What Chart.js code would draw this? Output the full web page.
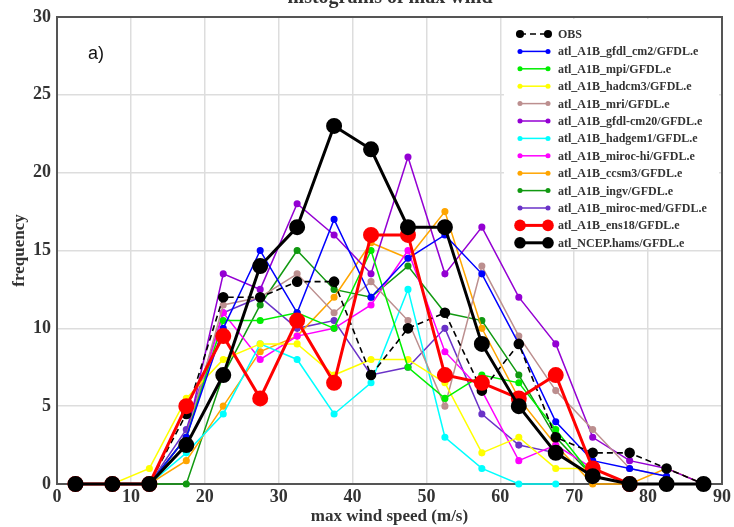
<!DOCTYPE html>
<html>
<head>
<meta charset="utf-8">
<title>max wind histogram</title>
<script src="https://cdn.jsdelivr.net/npm/chart.js@4.4.1/dist/chart.umd.min.js"></script>
<style>
    html, body { margin: 0; padding: 0; background: #fff; }
    canvas { display: block; }
</style>
</head>
<body>
<canvas id="wind-chart" width="734" height="527"></canvas>
<script>
// Centros dos intervalos de velocidade máxima (m/s)
const windBins = [2.5, 7.5, 12.5, 17.5, 22.5, 27.5, 32.5, 37.5, 42.5, 47.5, 52.5, 57.5, 62.5, 67.5, 72.5, 77.5, 82.5, 87.5];

// Frequências de cada experimento
const obs      = [0, 0, 0, 4.5, 12, 12, 13, 13, 7, 10, 11, 6, 9, 3, 2, 2, 1, 0];
const gfdlCm2  = [0, 0, 0, 3, 10, 15, 11, 17, 12, 14.5, 16, 13.5, 9, 4, 1.5, 1, 0.5, null];
const mpi      = [0, 0, 0, 3, 10.5, 10.5, 11, 10, 15, 7.5, 5.5, 7, 6.5, 3.5, 0.5, 0, 0, null];
const hadcm3   = [0, 0, 1, 5.5, 8, 9, 9, 7, 8, 8, 6.5, 2, 3, 1, 1, 0, null, null];
const mri      = [0, 0, 0, 3, 11.5, 12, 13.5, 11, 13, 10.5, 5, 14, 9.5, 6, 3.5, 1, 0.5, null];
const gfdlCm20 = [0, 0, 0, 3, 13.5, 12.5, 18, 16, 13.5, 21, 13.5, 16.5, 12, 9, 3, 1.5, 1, 0];
const hadgem1  = [0, 0, 0, 2, 4.5, 9, 8, 4.5, 6.5, 12.5, 3, 1, 0, 0, null, null, null, null];
const mirocHi  = [0, 0, 0, 3, 11, 8, 9.5, 10, 11.5, 15, 8.5, 6, 1.5, 2.5, 1, null, null, null];
const ccsm3    = [0, 0, 0, 1.5, 5, 8.5, 9.5, 12, 15.5, 14.5, 17.5, 10, 5.5, 2.5, 0, 0, 1, 0];
const ingv     = [0, 0, 0, 0, 7, 11.5, 15, 12.5, 12, 14, 11, 10.5, 7, 3, 0.5, 0, 0, null];
const mirocMed = [0, 0, 0, 3.5, 11, 12, 10, 10.5, 7, 7.5, 10, 4.5, 2.5, 2, 0.5, 0, null, null];
const ens18    = [0, 0, 0, 5, 9.5, 5.5, 10.5, 6.5, 16, 16, 7, 6.5, 5.5, 7, 1, 0, null, null];
const ncep     = [0, 0, 0, 2.5, 7, 14, 16.5, 23, 21.5, 16.5, 16.5, 9, 5, 2, 0.5, 0, 0, 0];

const xTicks = [0, 10, 20, 30, 40, 50, 60, 70, 80, 90];
const yTicks = [0, 5, 10, 15, 20, 25, 30];

const serif = "'Liberation Serif', 'Times New Roman', serif";

// Monta os pares {x, y} para cada série
function toPoints(values) {
    return values.map((v, i) => ({ x: windBins[i], y: v }));
}

function series(label, values, color, opts = {}) {
    return Object.assign({
        label: label,
        data: toPoints(values),
        borderColor: color,
        backgroundColor: color,
        pointBackgroundColor: color,
        pointBorderColor: color,
        borderWidth: 1.5,
        pointRadius: 2.8,
        pointHoverRadius: 2.8,
        tension: 0,
        spanGaps: false,
        clip: false,
        order: 5
    }, opts);
}

const datasets = [
    series('OBS', obs, '#000000', { borderDash: [6, 4], pointRadius: 4.5, borderWidth: 1.6, order: 2 }),
    series('atl_A1B_gfdl_cm2/GFDL.e', gfdlCm2, '#0000ff'),
    series('atl_A1B_mpi/GFDL.e', mpi, '#00ee00'),
    series('atl_A1B_hadcm3/GFDL.e', hadcm3, '#ffff00'),
    series('atl_A1B_mri/GFDL.e', mri, '#bc8f8f'),
    series('atl_A1B_gfdl-cm20/GFDL.e', gfdlCm20, '#9400d3'),
    series('atl_A1B_hadgem1/GFDL.e', hadgem1, '#00ffff'),
    series('atl_A1B_miroc-hi/GFDL.e', mirocHi, '#ff00ff'),
    series('atl_A1B_ccsm3/GFDL.e', ccsm3, '#ffa500'),
    series('atl_A1B_ingv/GFDL.e', ingv, '#119911'),
    series('atl_A1B_miroc-med/GFDL.e', mirocMed, '#6a32c8'),
    series('atl_A1B_ens18/GFDL.e', ens18, '#ff0000', { borderWidth: 3, pointRadius: 6.5, order: 1 }),
    series('atl_NCEP.hams/GFDL.e', ncep, '#000000', { borderWidth: 3, pointRadius: 6.5, order: 0 })
];

// Moldura completa do gráfico (os quatro lados)
const frameBox = {
    id: 'frameBox',
    beforeDatasetsDraw(chart) {
        const { ctx, chartArea: a } = chart;
        ctx.save();
        ctx.strokeStyle = '#555';
        ctx.lineWidth = 2;
        ctx.strokeRect(a.left, a.top, a.right - a.left, a.bottom - a.top);
        ctx.restore();
    }
};

// Legenda desenhada à mão: linha com um ponto em cada ponta
const sideLegend = {
    id: 'sideLegend',
    afterDatasetsDraw(chart) {
        const { ctx } = chart;
        const x0 = 520, x1 = 548, top = 34, step = 17.4;
        ctx.save();
        ctx.fillStyle = '#fff';
        ctx.fillRect(504, 19, 215, 229);
        chart.data.datasets.forEach((ds, i) => {
            const y = top + i * step;
            const r = Math.min(ds.pointRadius * 0.9, 5.8);
            ctx.strokeStyle = ds.borderColor;
            ctx.lineWidth = Math.min(ds.borderWidth, 3);
            ctx.setLineDash(ds.borderDash || []);
            ctx.beginPath();
            ctx.moveTo(x0, y);
            ctx.lineTo(x1, y);
            ctx.stroke();
            ctx.setLineDash([]);
            ctx.fillStyle = ds.pointBackgroundColor;
            [x0, x1].forEach(px => {
                ctx.beginPath();
                ctx.arc(px, y, r, 0, Math.PI * 2);
                ctx.fill();
            });
            ctx.fillStyle = '#333';
            ctx.font = 'bold 12px ' + serif;
            ctx.textBaseline = 'middle';
            ctx.textAlign = 'left';
            ctx.fillText(ds.label, 558, y + 1);
        });
        ctx.restore();
    }
};

// Título (cortado no topo) e rótulo do painel
const headerText = {
    id: 'headerText',
    afterDraw(chart) {
        const { ctx } = chart;
        ctx.save();
        ctx.fillStyle = '#333';
        ctx.font = 'bold 20px ' + serif;
        ctx.textAlign = 'center';
        ctx.textBaseline = 'alphabetic';
        ctx.fillText('histograms of max wind', 390, 3);
        ctx.fillStyle = '#111';
        ctx.font = '18px ' + "'Liberation Sans', Arial, sans-serif";
        ctx.textAlign = 'left';
        ctx.fillText('a)', 88, 59);
        ctx.restore();
    }
};

const ctx = document.getElementById('wind-chart').getContext('2d');
const windChart = new Chart(ctx, {
    type: 'line',
    data: { datasets: datasets },
    options: {
        responsive: false,
        devicePixelRatio: 1,
        animation: false,
        layout: { padding: { top: 17, right: 11, left: 0, bottom: 0 } },
        plugins: {
            legend: { display: false },
            tooltip: { enabled: false }
        },
        scales: {
            x: {
                type: 'linear',
                min: 0,
                max: 90,
                afterBuildTicks: scale => { scale.ticks = xTicks.map(v => ({ value: v })); },
                afterFit: scale => { scale.height = 43; },
                ticks: { color: '#333', font: { family: serif, size: 18, weight: 'bold' }, padding: 3, maxRotation: 0 },
                grid: { color: '#dddddd', lineWidth: 1.5, drawTicks: false },
                border: { display: false },
                title: {
                    display: true,
                    text: 'max wind speed (m/s)',
                    color: '#333',
                    font: { family: serif, size: 17, weight: 'bold' },
                    padding: { top: 0, bottom: 0 }
                }
            },
            y: {
                type: 'linear',
                min: 0,
                max: 30,
                afterBuildTicks: scale => { scale.ticks = yTicks.map(v => ({ value: v })); },
                afterFit: scale => { scale.width = 57; },
                ticks: { color: '#333', font: { family: serif, size: 18, weight: 'bold' }, padding: 6 },
                grid: { color: '#dddddd', lineWidth: 1.5, drawTicks: false },
                border: { display: false },
                title: {
                    display: true,
                    text: 'frequency',
                    color: '#333',
                    font: { family: serif, size: 17, weight: 'bold' },
                    padding: { top: 9, bottom: 0 }
                }
            }
        }
    },
    plugins: [frameBox, sideLegend, headerText]
});
</script>
</body>
</html>
